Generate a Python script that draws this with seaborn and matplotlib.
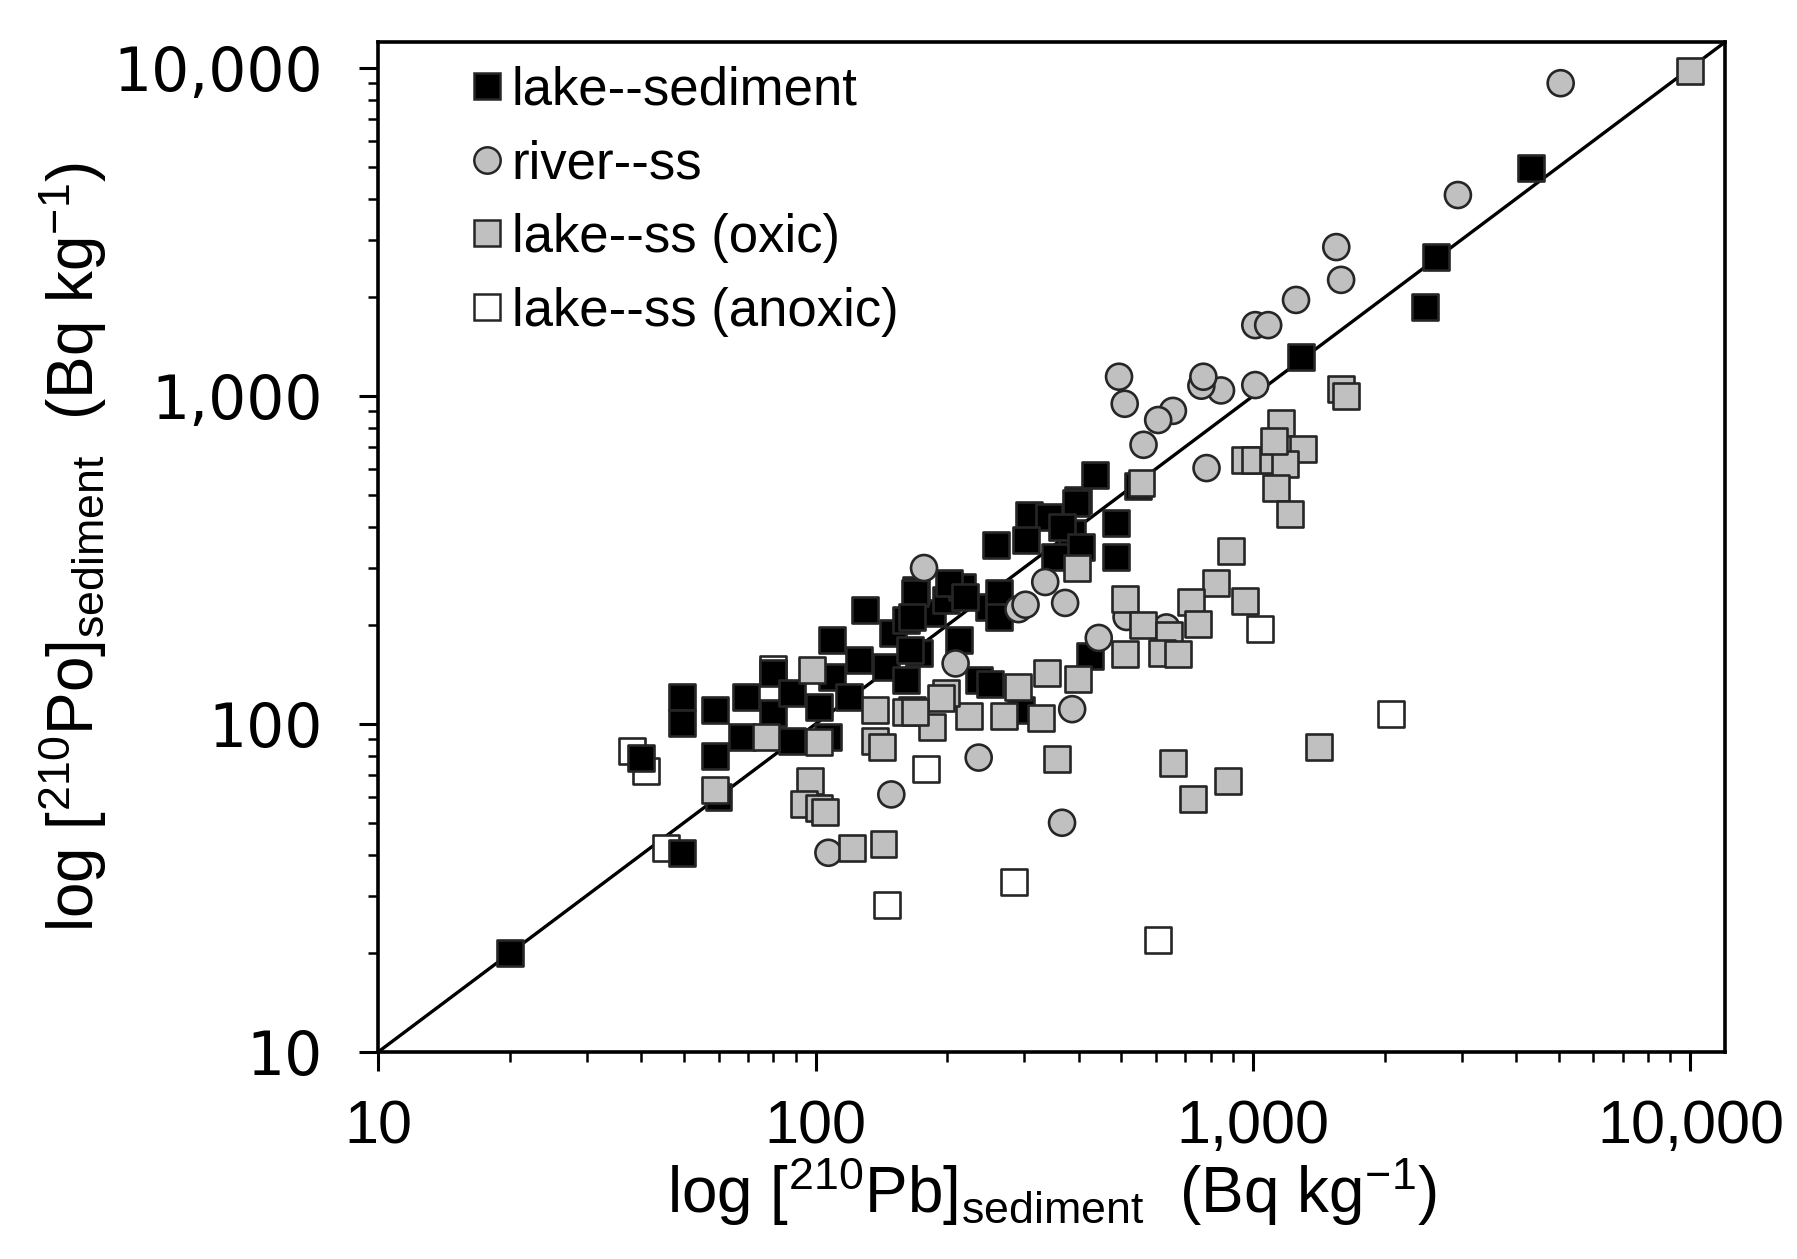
import matplotlib
matplotlib.use("Agg")
import matplotlib.pyplot as plt
from matplotlib.lines import Line2D
from matplotlib.ticker import LogLocator, FixedLocator, FixedFormatter, NullFormatter
from matplotlib import font_manager
import seaborn as sns
import pandas as pd

# ---------------- data (Bq kg-1) ----------------
groups = ["lake--sediment", "river--ss", "lake--ss (oxic)", "lake--ss (anoxic)"]

sed_pb = [20, 40, 49.5, 49.5, 49.5, 59, 59, 60, 68, 69.5, 80, 80, 88.5, 88.5, 102,
          109, 109, 107, 126, 119, 130, 150, 145, 161, 172, 185, 161, 170, 199, 216,
          249, 202, 169, 220, 262, 262, 166, 213, 164, 236, 251, 295, 423, 258, 307,
          341, 302, 386, 353, 399, 436, 485, 485, 393, 365, 405, 545, 1290, 2470, 2620,
          4310]
sed_po = [20, 79, 121, 101, 40.5, 110, 80, 60, 91, 121, 143, 108, 124, 89, 113,
          180, 139, 91, 157, 121, 223, 189, 149, 136, 165, 218, 207, 256, 239, 262,
          228, 269, 251, 244, 251, 212, 212, 180, 168, 136, 132, 110, 161, 351, 434,
          428, 364, 382, 323, 482, 574, 410, 323, 472, 399, 347, 530, 1315, 1866, 2660,
          4955]

riv_pb = [5050, 2940, 1550, 1590, 1254, 1012, 1083, 1012, 845, 762, 770, 783, 562, 656,
          607, 494, 509, 177, 335, 291, 302, 372, 209, 444, 386, 366, 236, 149, 107, 514, 634]
riv_po = [8990, 4100, 2845, 2260, 1963, 1645, 1645, 1080, 1040, 1075, 1145, 603, 710, 901,
          845, 1145, 947, 299, 271, 224, 231, 234, 153, 183, 111, 50, 79, 61, 40.5, 212, 197]

oxi_pb = [10000, 1590, 1630, 1160, 1303, 960, 1010, 1110, 1183, 1128, 1213, 1115, 891, 824,
          722, 960, 750, 509, 561, 644, 618, 673, 509, 395, 556, 338, 399, 291, 224, 269,
          327, 357, 656, 875, 731, 1416, 199, 194, 166, 185, 137, 137, 142, 161, 169, 98,
          77, 102, 59, 97, 94, 102, 105, 121, 143]
oxi_po = [9800, 1050, 1000, 828, 690, 637, 637, 637, 622, 526, 437, 730, 338, 270,
          235, 237, 202, 241, 200, 187, 165, 164, 163, 299, 543, 143, 137, 130, 106, 106,
          104, 78, 76, 67, 59, 85, 124, 120, 110, 98, 110, 89, 85, 109, 109, 146,
          91, 88, 63, 67, 57, 55.5, 54, 42, 43]

anx_pb = [38, 41, 45.5, 80, 179, 146, 284, 607, 1037, 2070]
anx_po = [83, 72, 42, 147, 73, 28, 33, 22, 195, 107]

tick_vals = [10, 100, 1000, 10000]
tick_labels = ["10", "100", "1,000", "10,000"]
axis_lim = [10, 12000]

# ---------------- styles ----------------
fills = {"lake--sediment": "#000000", "river--ss": "#c0c0c0",
         "lake--ss (oxic)": "#c0c0c0", "lake--ss (anoxic)": "#ffffff"}
marks = {"lake--sediment": "s", "river--ss": "o",
         "lake--ss (oxic)": "s", "lake--ss (anoxic)": "s"}
edge = "#262626"

# drawing order: anoxic underneath, then sediment, river, oxic on top
frames = [
    pd.DataFrame({"pb": anx_pb, "po": anx_po, "group": "lake--ss (anoxic)"}),
    pd.DataFrame({"pb": sed_pb, "po": sed_po, "group": "lake--sediment"}),
    pd.DataFrame({"pb": riv_pb, "po": riv_po, "group": "river--ss"}),
    pd.DataFrame({"pb": oxi_pb, "po": oxi_po, "group": "lake--ss (oxic)"}),
]
df = pd.concat(frames, ignore_index=True)

sns.set_style("white")
plt.rcParams["font.family"] = ["Liberation Sans", "DejaVu Sans"]
plt.rcParams["text.color"] = "black"
plt.rcParams["axes.labelcolor"] = "black"
plt.rcParams["xtick.color"] = "black"
plt.rcParams["ytick.color"] = "black"
plt.rcParams["mathtext.fontset"] = "custom"
plt.rcParams["mathtext.rm"] = "Liberation Sans"
plt.rcParams["mathtext.it"] = "Liberation Sans:italic"
plt.rcParams["mathtext.bf"] = "Liberation Sans:bold"

installed = {f.name for f in font_manager.fontManager.ttflist}
if "Liberation Sans Narrow" in installed:
    xtick_family, xtick_size = ["Liberation Sans Narrow"], 49
else:
    xtick_family, xtick_size = ["Liberation Sans"], 44

fig = plt.figure(figsize=(17.97, 12.59), dpi=100)
ax = fig.add_axes([0.2104, 0.1644, 0.7496, 0.8022])

ax.plot(axis_lim, axis_lim, color="black", lw=2.4, zorder=2)

sns.scatterplot(data=df, x="pb", y="po", hue="group", style="group",
                hue_order=groups, style_order=groups, palette=fills, markers=marks,
                s=350, edgecolor=edge, linewidth=1.9, legend=False, ax=ax, zorder=3)

ax.set_xscale("log")
ax.set_yscale("log")
ax.set_xlim(*axis_lim)
ax.set_ylim(*axis_lim)

for axis in (ax.xaxis, ax.yaxis):
    axis.set_major_locator(FixedLocator(tick_vals))
    axis.set_major_formatter(FixedFormatter(tick_labels))
    axis.set_minor_locator(LogLocator(base=10, subs=range(2, 10), numticks=20))
    axis.set_minor_formatter(NullFormatter())

ax.tick_params(axis="both", which="both", bottom=True, left=True, top=False,
               right=False, direction="out", colors="black")
ax.tick_params(axis="both", which="major", length=14, width=2.2)
ax.tick_params(axis="both", which="minor", length=7, width=1.8)
ax.tick_params(axis="x", which="major", pad=20)
ax.tick_params(axis="y", which="major", pad=26)
for lab in ax.get_xticklabels():
    lab.set_fontsize(xtick_size)
    lab.set_family(xtick_family)
for lab in ax.get_yticklabels():
    lab.set_fontsize(43)
    lab.set_family(["DejaVu Sans"])

for sp in ax.spines.values():
    sp.set_visible(True)
    sp.set_linewidth(2.6)
    sp.set_color("black")

ax.set_xlabel(r"log [$^{210}$Pb]$_{\mathrm{sediment}}$  (Bq kg$^{-1}$)", fontsize=46)
ax.set_ylabel(r"log [$^{210}$Po]$_{\mathrm{sediment}}$  (Bq kg$^{-1}$)", fontsize=46)
ax.xaxis.set_label_coords(0.5, -0.102)
ax.yaxis.set_label_coords(-0.20, 0.5)

handles = [Line2D([], [], linestyle="none", marker=marks[g], markersize=19,
                  markerfacecolor=fills[g], markeredgecolor=edge, markeredgewidth=1.8)
           for g in groups]
ax.legend(handles, groups, loc="upper left", bbox_to_anchor=(0.071, 0.977),
          frameon=False, fontsize=38, borderpad=0, handlelength=0.5,
          handletextpad=0.22, labelspacing=0.45, borderaxespad=0)

fig.savefig("out.png", dpi=100, facecolor="white")
